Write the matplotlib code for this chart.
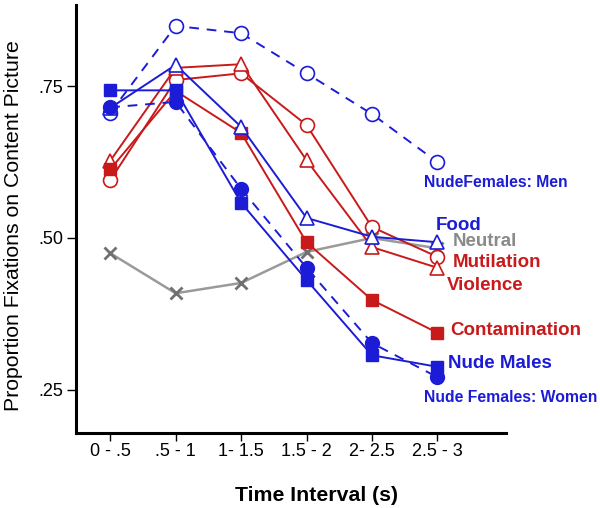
import matplotlib
matplotlib.use("Agg")
import matplotlib.pyplot as plt

plt.rcParams['font.family'] = ['Liberation Sans', 'DejaVu Sans']

# time intervals (x categories)
intervals = ["0 - .5", ".5 - 1", "1- 1.5", "1.5 - 2", "2- 2.5", "2.5 - 3"]

# proportion of fixations on content picture
nf_men = [0.706, 0.849, 0.837, 0.771, 0.704, 0.625]
food = [0.714, 0.785, 0.683, 0.533, 0.502, 0.493]
neutral = [0.475, 0.409, 0.426, 0.477, 0.500, 0.483]
mutilation = [0.595, 0.760, 0.771, 0.686, 0.518, 0.469]
violence = [0.627, 0.780, 0.786, 0.628, 0.485, 0.451]
contamination = [0.613, 0.742, 0.673, 0.493, 0.398, 0.344]
nude_males = [0.743, 0.743, 0.558, 0.431, 0.307, 0.288]
nf_women = [0.715, 0.724, 0.581, 0.451, 0.327, 0.271]

blue = "#1c1cd6"
red = "#c81a1a"
gray = "#9a9a9a"

fig = plt.figure(figsize=(6, 5.08), dpi=100)
ax = fig.add_axes([0.127, 0.1476, 0.717, 0.842])

x = list(range(len(intervals)))

ax.plot(x, neutral, color=gray, lw=1.8, marker="x", ms=8, mew=2,
        mec="#707070", zorder=2)
ax.plot(x, nf_men, color=blue, lw=1.4, ls=(0, (5, 4)), marker="o", ms=10,
        mfc="white", mec=blue, mew=1.2, zorder=3)
ax.plot(x, mutilation, color=red, lw=1.4, marker="o", ms=10,
        mfc="white", mec=red, mew=1.2, zorder=3)
ax.plot(x, violence, color=red, lw=1.4, marker="^", ms=10,
        mfc="white", mec=red, mew=1.2, zorder=3)
ax.plot(x, contamination, color=red, lw=1.4, marker="s", ms=8,
        mfc=red, mec=red, zorder=4)
ax.plot(x, food, color=blue, lw=1.4, marker="^", ms=10,
        mfc="white", mec=blue, mew=1.2, zorder=4)
ax.plot(x, nude_males, color=blue, lw=1.4, marker="s", ms=8,
        mfc=blue, mec=blue, zorder=5)
ax.plot(x, nf_women, color=blue, lw=1.4, ls=(0, (5, 4)), marker="o", ms=10,
        mfc=blue, mec=blue, zorder=5)

# series labels at the right end
lab = dict(fontweight="bold", ha="left", va="center", clip_on=False)
ax.text(4.80, 0.592, "NudeFemales: Men", color=blue, fontsize=11.3, **lab)
ax.text(4.97, 0.521, "Food", color=blue, fontsize=13.5, **lab)
ax.text(5.23, 0.495, "Neutral", color="#8a8a8a", fontsize=13.5, **lab)
ax.text(5.23, 0.460, "Mutilation", color=red, fontsize=13.5, **lab)
ax.text(5.15, 0.421, "Violence", color=red, fontsize=13.5, **lab)
ax.text(5.20, 0.347, "Contamination", color=red, fontsize=13.5, **lab)
ax.text(5.17, 0.293, "Nude Males", color=blue, fontsize=13.5, **lab)
ax.text(4.80, 0.238, "Nude Females: Women", color=blue, fontsize=11.3, **lab)

ax.set_xlim(-0.52, 6.055)
ax.set_ylim(0.179, 0.883)
ax.set_xticks(x)
ax.set_xticklabels(intervals, fontsize=13)
ax.set_yticks([0.25, 0.50, 0.75])
ax.set_yticklabels([".25", ".50", ".75"], fontsize=13)
ax.tick_params(axis="x", direction="out", length=5.5, width=1, pad=2)
ax.tick_params(axis="y", direction="out", length=6.5, width=1, pad=3)

for side in ["top", "right"]:
    ax.spines[side].set_visible(False)
for side in ["left", "bottom"]:
    ax.spines[side].set_linewidth(2.2)

ax.set_ylabel("Proportion Fixations on Content Picture", fontsize=15.3, va="center")
ax.yaxis.set_label_coords(-0.1465, 0.486)
ax.set_xlabel("Time Interval (s)", fontsize=15.3, fontweight="bold", va="center")
ax.xaxis.set_label_coords(0.558, -0.145)

fig.savefig("out.png", dpi=100)
